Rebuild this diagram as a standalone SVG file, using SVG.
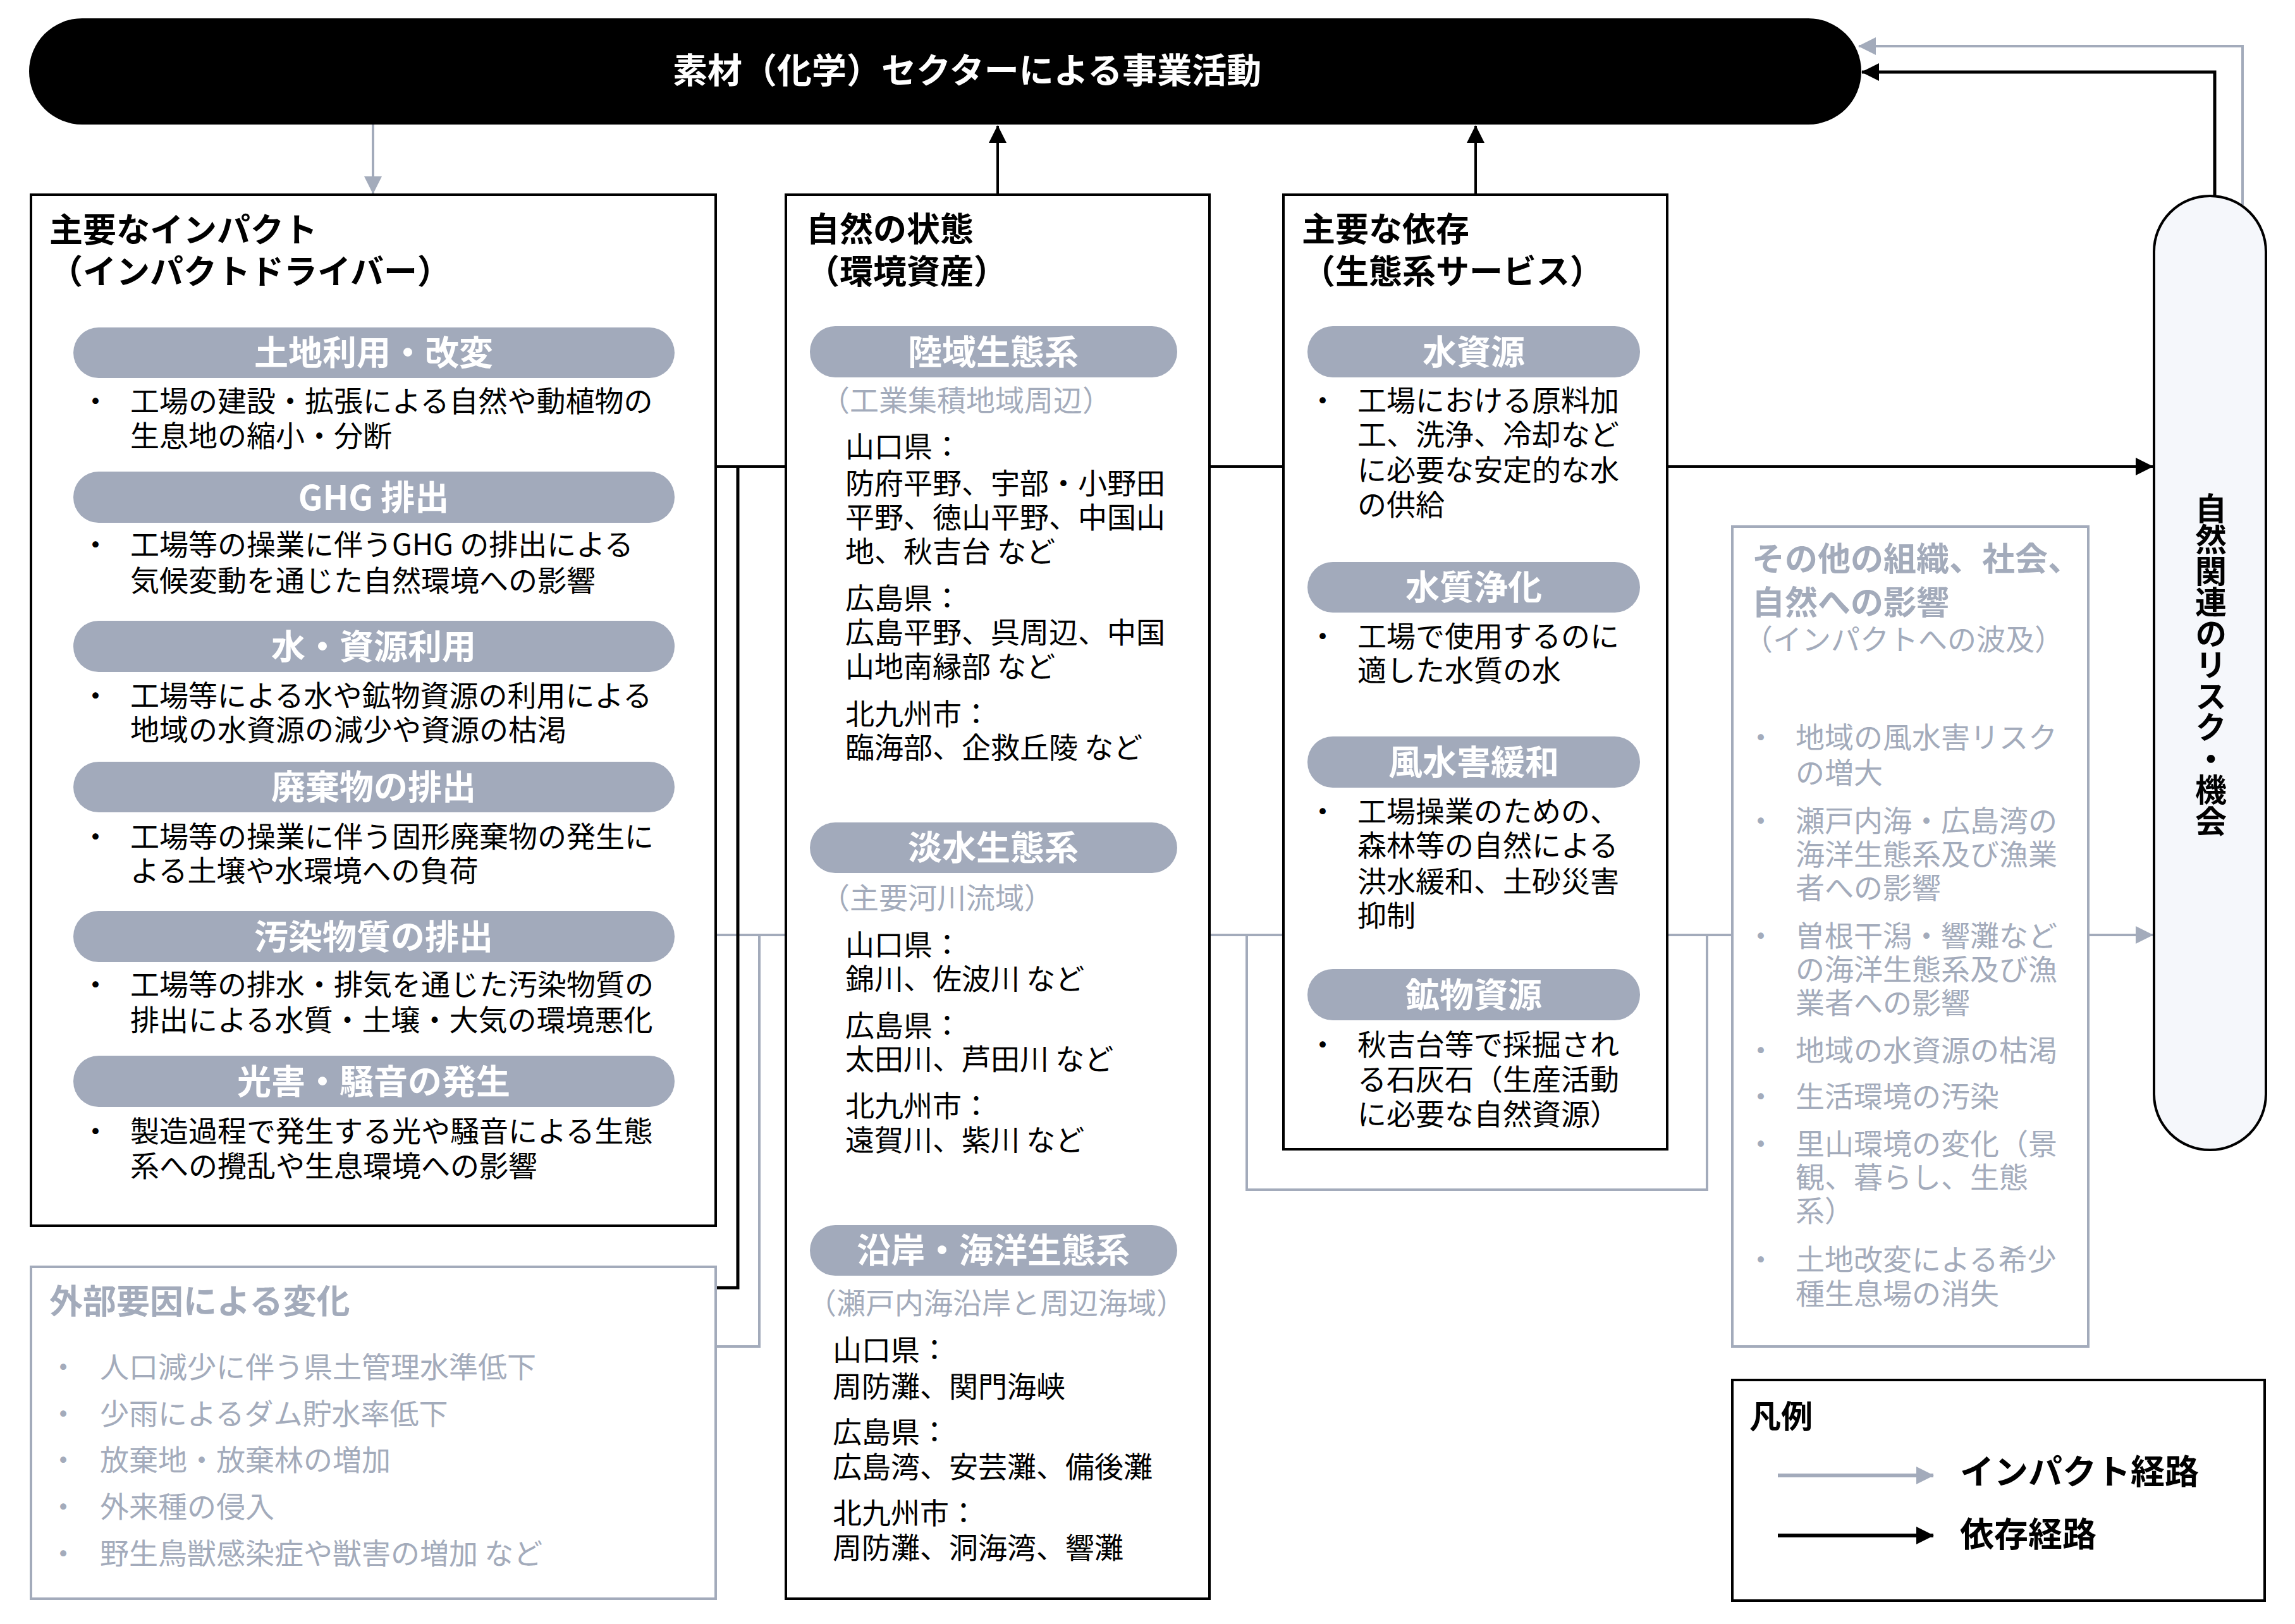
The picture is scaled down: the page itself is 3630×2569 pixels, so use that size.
<svg xmlns="http://www.w3.org/2000/svg" width="3630" height="2569" viewBox="0 0 3630 2569">
<style>
text{font-family:"Noto Sans CJK JP","Noto Sans",sans-serif;font-size:46px;fill:#000}
.h{font-size:53px;font-weight:bold}
.g{fill:#a3abbb}
.pt{font-size:54px;font-weight:bold;fill:#fff;text-anchor:middle}
.box{fill:#fff;stroke:#000;stroke-width:4}
.gbox{fill:#fff;stroke:#a3abbb;stroke-width:4}
.pill{fill:#a2aabb}
.ci{fill:none;stroke:#a3abbb;stroke-width:4}
.cd{fill:none;stroke:#000;stroke-width:4}
</style>
<defs>
<marker id="ag" viewBox="0 0 28 28" refX="27" refY="14" markerWidth="28" markerHeight="28" markerUnits="userSpaceOnUse" orient="auto"><path d="M0,0 L28,14 L0,28 z" fill="#a3abbb"/></marker>
<marker id="ab" viewBox="0 0 28 28" refX="27" refY="14" markerWidth="28" markerHeight="28" markerUnits="userSpaceOnUse" orient="auto"><path d="M0,0 L28,14 L0,28 z" fill="#000"/></marker>
</defs>
<rect width="3630" height="2569" fill="#fff"/>

<g id="connectors">
<path class="ci" d="M1132,1479 H1243"/>
<path class="ci" d="M1201,1479 V2130 H1132"/>
<path class="ci" d="M1913,1479 H2030"/>
<path class="ci" d="M1972,1479 V1882 H2700 V1479"/>
<path class="ci" d="M2637,1479 H2740"/>
<path class="ci" d="M3303,1479 H3405" marker-end="url(#ag)"/>
<path class="ci" d="M590,197 V306" marker-end="url(#ag)"/>
<path class="ci" d="M3547,324 V73 H2940" marker-end="url(#ag)"/>
<path class="cd" d="M1132,738 H1243"/>
<path class="cd" d="M1167,738 V2037 H1132" style="stroke-width:5"/>
<path class="cd" d="M1913,738 H2030"/>
<path class="cd" d="M2637,738 H3405" marker-end="url(#ab)"/>
<path class="cd" d="M1578,308 V199" marker-end="url(#ab)"/>
<path class="cd" d="M2334,308 V199" marker-end="url(#ab)"/>
<path class="cd" d="M3503,310 V114 H2945" marker-end="url(#ab)" style="stroke-width:5"/>
</g>

<g id="business">
<rect x="46" y="29" width="2898" height="168" rx="84" fill="#000"/>
<text x="1064" y="131" style="font-size:55px;font-weight:bold;fill:#fff">素材（化学）セクターによる事業活動</text>
</g>

<g id="impacts">
<rect class="box" x="49" y="308" width="1083" height="1631"/>
<text class="h"><tspan x="78" y="383">主要なインパクト</tspan><tspan x="78" y="449">（インパクトドライバー）</tspan></text>
<rect class="pill" x="116" y="518" width="951" height="80" rx="40"/>
<text class="pt" x="591" y="578">土地利用・改変</text>
<text x="128" y="651">・</text>
<text><tspan x="206" y="651">工場の建設・拡張による自然や動植物の</tspan><tspan x="206" y="706">生息地の縮小・分断</tspan></text>
<rect class="pill" x="116" y="746" width="951" height="81" rx="40"/>
<text class="pt" x="591" y="807">GHG 排出</text>
<text x="128" y="878">・</text>
<text><tspan x="206" y="878">工場等の操業に伴うGHG の排出による</tspan><tspan x="206" y="935">気候変動を通じた自然環境への影響</tspan></text>
<rect class="pill" x="116" y="982" width="951" height="81" rx="40"/>
<text class="pt" x="591" y="1043">水・資源利用</text>
<text x="128" y="1117">・</text>
<text><tspan x="206" y="1117">工場等による水や鉱物資源の利用による</tspan><tspan x="206" y="1171">地域の水資源の減少や資源の枯渇</tspan></text>
<rect class="pill" x="116" y="1205" width="951" height="80" rx="40"/>
<text class="pt" x="591" y="1265">廃棄物の排出</text>
<text x="128" y="1340">・</text>
<text><tspan x="206" y="1340">工場等の操業に伴う固形廃棄物の発生に</tspan><tspan x="206" y="1394">よる土壌や水環境への負荷</tspan></text>
<rect class="pill" x="116" y="1441" width="951" height="81" rx="40"/>
<text class="pt" x="591" y="1502">汚染物質の排出</text>
<text x="128" y="1574">・</text>
<text><tspan x="206" y="1574">工場等の排水・排気を通じた汚染物質の</tspan><tspan x="206" y="1630">排出による水質・土壌・大気の環境悪化</tspan></text>
<rect class="pill" x="116" y="1670" width="951" height="81" rx="40"/>
<text class="pt" x="591" y="1731">光害・騒音の発生</text>
<text x="128" y="1806">・</text>
<text><tspan x="206" y="1806">製造過程で発生する光や騒音による生態</tspan><tspan x="206" y="1861">系への攪乱や生息環境への影響</tspan></text>
</g>

<g id="external">
<rect class="gbox" x="49" y="2004" width="1083" height="525"/>
<text class="h g" x="78" y="2078">外部要因による変化</text>
<text class="g" x="77" y="2179">・</text>
<text class="g" x="158" y="2179">人口減少に伴う県土管理水準低下</text>
<text class="g" x="77" y="2253">・</text>
<text class="g" x="158" y="2253">少雨によるダム貯水率低下</text>
<text class="g" x="77" y="2326">・</text>
<text class="g" x="158" y="2326">放棄地・放棄林の増加</text>
<text class="g" x="77" y="2400">・</text>
<text class="g" x="158" y="2400">外来種の侵入</text>
<text class="g" x="77" y="2474">・</text>
<text class="g" x="158" y="2474">野生鳥獣感染症や獣害の増加 など</text>
</g>

<g id="nature">
<rect class="box" x="1243" y="308" width="670" height="2221"/>
<text class="h"><tspan x="1275" y="382">自然の状態</tspan><tspan x="1275" y="449">（環境資産）</tspan></text>
<rect class="pill" x="1281" y="516" width="581" height="81" rx="40"/>
<text class="pt" x="1571" y="577">陸域生態系</text>
<text class="g" x="1298" y="650">（工業集積地域周辺）</text>
<text><tspan x="1337" y="723">山口県：</tspan><tspan x="1337" y="781">防府平野、宇部・小野田</tspan><tspan x="1337" y="835">平野、徳山平野、中国山</tspan><tspan x="1337" y="889">地、秋吉台 など</tspan></text>
<text><tspan x="1337" y="963">広島県：</tspan><tspan x="1337" y="1017">広島平野、呉周辺、中国</tspan><tspan x="1337" y="1071">山地南縁部 など</tspan></text>
<text><tspan x="1337" y="1146">北九州市：</tspan><tspan x="1337" y="1199">臨海部、企救丘陵 など</tspan></text>
<rect class="pill" x="1281" y="1301" width="581" height="80" rx="40"/>
<text class="pt" x="1571" y="1361">淡水生態系</text>
<text class="g" x="1298" y="1437">（主要河川流域）</text>
<text><tspan x="1337" y="1511">山口県：</tspan><tspan x="1337" y="1565">錦川、佐波川 など</tspan></text>
<text><tspan x="1337" y="1639">広島県：</tspan><tspan x="1337" y="1692">太田川、芦田川 など</tspan></text>
<text><tspan x="1337" y="1766">北九州市：</tspan><tspan x="1337" y="1820">遠賀川、紫川 など</tspan></text>
<rect class="pill" x="1281" y="1938" width="581" height="80" rx="40"/>
<text class="pt" x="1571" y="1998">沿岸・海洋生態系</text>
<text class="g" x="1277" y="2078">（瀬戸内海沿岸と周辺海域）</text>
<text><tspan x="1317" y="2152">山口県：</tspan><tspan x="1317" y="2210">周防灘、関門海峡</tspan></text>
<text><tspan x="1317" y="2282">広島県：</tspan><tspan x="1317" y="2337">広島湾、安芸灘、備後灘</tspan></text>
<text><tspan x="1317" y="2410">北九州市：</tspan><tspan x="1317" y="2465">周防灘、洞海湾、響灘</tspan></text>
</g>

<g id="dependencies">
<rect class="box" x="2030" y="308" width="607" height="1510"/>
<text class="h"><tspan x="2059" y="382">主要な依存</tspan><tspan x="2059" y="449">（生態系サービス）</tspan></text>
<rect class="pill" x="2068" y="516" width="526" height="81" rx="40"/>
<text class="pt" x="2331" y="577">水資源</text>
<text x="2069" y="650">・</text>
<text><tspan x="2147" y="650">工場における原料加</tspan><tspan x="2147" y="704">工、洗浄、冷却など</tspan><tspan x="2147" y="760">に必要な安定的な水</tspan><tspan x="2147" y="815">の供給</tspan></text>
<rect class="pill" x="2068" y="889" width="526" height="80" rx="40"/>
<text class="pt" x="2331" y="949">水質浄化</text>
<text x="2069" y="1023">・</text>
<text><tspan x="2147" y="1023">工場で使用するのに</tspan><tspan x="2147" y="1077">適した水質の水</tspan></text>
<rect class="pill" x="2068" y="1165" width="526" height="81" rx="40"/>
<text class="pt" x="2331" y="1226">風水害緩和</text>
<text x="2069" y="1300">・</text>
<text><tspan x="2147" y="1300">工場操業のための、</tspan><tspan x="2147" y="1354">森林等の自然による</tspan><tspan x="2147" y="1411">洪水緩和、土砂災害</tspan><tspan x="2147" y="1465">抑制</tspan></text>
<rect class="pill" x="2068" y="1533" width="526" height="81" rx="40"/>
<text class="pt" x="2331" y="1594">鉱物資源</text>
<text x="2069" y="1669">・</text>
<text><tspan x="2147" y="1669">秋吉台等で採掘され</tspan><tspan x="2147" y="1724">る石灰石（生産活動</tspan><tspan x="2147" y="1779">に必要な自然資源）</tspan></text>
</g>

<g id="other-impacts">
<rect class="gbox" x="2740" y="833" width="563" height="1297"/>
<text class="g" style="font-size:52px;font-weight:bold"><tspan x="2771" y="903">その他の組織、社会、</tspan><tspan x="2771" y="972">自然への影響</tspan></text>
<text class="g" x="2758" y="1028" style="font-size:46px">（インパクトへの波及）</text>
<text class="g" x="2762" y="1183">・</text>
<text class="g"><tspan x="2840" y="1183">地域の風水害リスク</tspan><tspan x="2840" y="1239">の増大</tspan></text>
<text class="g" x="2762" y="1315">・</text>
<text class="g"><tspan x="2840" y="1315">瀬戸内海・広島湾の</tspan><tspan x="2840" y="1368">海洋生態系及び漁業</tspan><tspan x="2840" y="1421">者への影響</tspan></text>
<text class="g" x="2762" y="1497">・</text>
<text class="g"><tspan x="2840" y="1497">曽根干潟・響灘など</tspan><tspan x="2840" y="1550">の海洋生態系及び漁</tspan><tspan x="2840" y="1603">業者への影響</tspan></text>
<text class="g" x="2762" y="1678">・</text>
<text class="g" x="2840" y="1678">地域の水資源の枯渇</text>
<text class="g" x="2762" y="1751">・</text>
<text class="g" x="2840" y="1751">生活環境の汚染</text>
<text class="g" x="2762" y="1826">・</text>
<text class="g"><tspan x="2840" y="1826">里山環境の変化（景</tspan><tspan x="2840" y="1879">観、暮らし、生態</tspan><tspan x="2840" y="1932">系）</tspan></text>
<text class="g" x="2762" y="2009">・</text>
<text class="g"><tspan x="2840" y="2009">土地改変による希少</tspan><tspan x="2840" y="2063">種生息場の消失</tspan></text>
</g>

<g id="risks">
<rect x="3407" y="310" width="177" height="1509" rx="88" fill="#f5f7fb" stroke="#000" stroke-width="4"/>
<text x="3497" y="1051" style="font-size:50px;font-weight:bold;text-anchor:middle;writing-mode:vertical-rl;letter-spacing:-0.5px">自然関連のリスク・機会</text>
</g>

<g id="legend">
<rect class="box" x="2740" y="2183" width="842" height="349"/>
<text x="2767" y="2259" style="font-size:50px;font-weight:bold">凡例</text>
<path class="ci" d="M2812,2334 H3058" marker-end="url(#ag)" style="stroke-width:6"/>
<text x="3100" y="2348" style="font-size:54px;font-weight:bold">インパクト経路</text>
<path class="cd" d="M2812,2429 H3058" marker-end="url(#ab)" style="stroke-width:6"/>
<text x="3100" y="2447" style="font-size:54px;font-weight:bold">依存経路</text>
</g>
</svg>
